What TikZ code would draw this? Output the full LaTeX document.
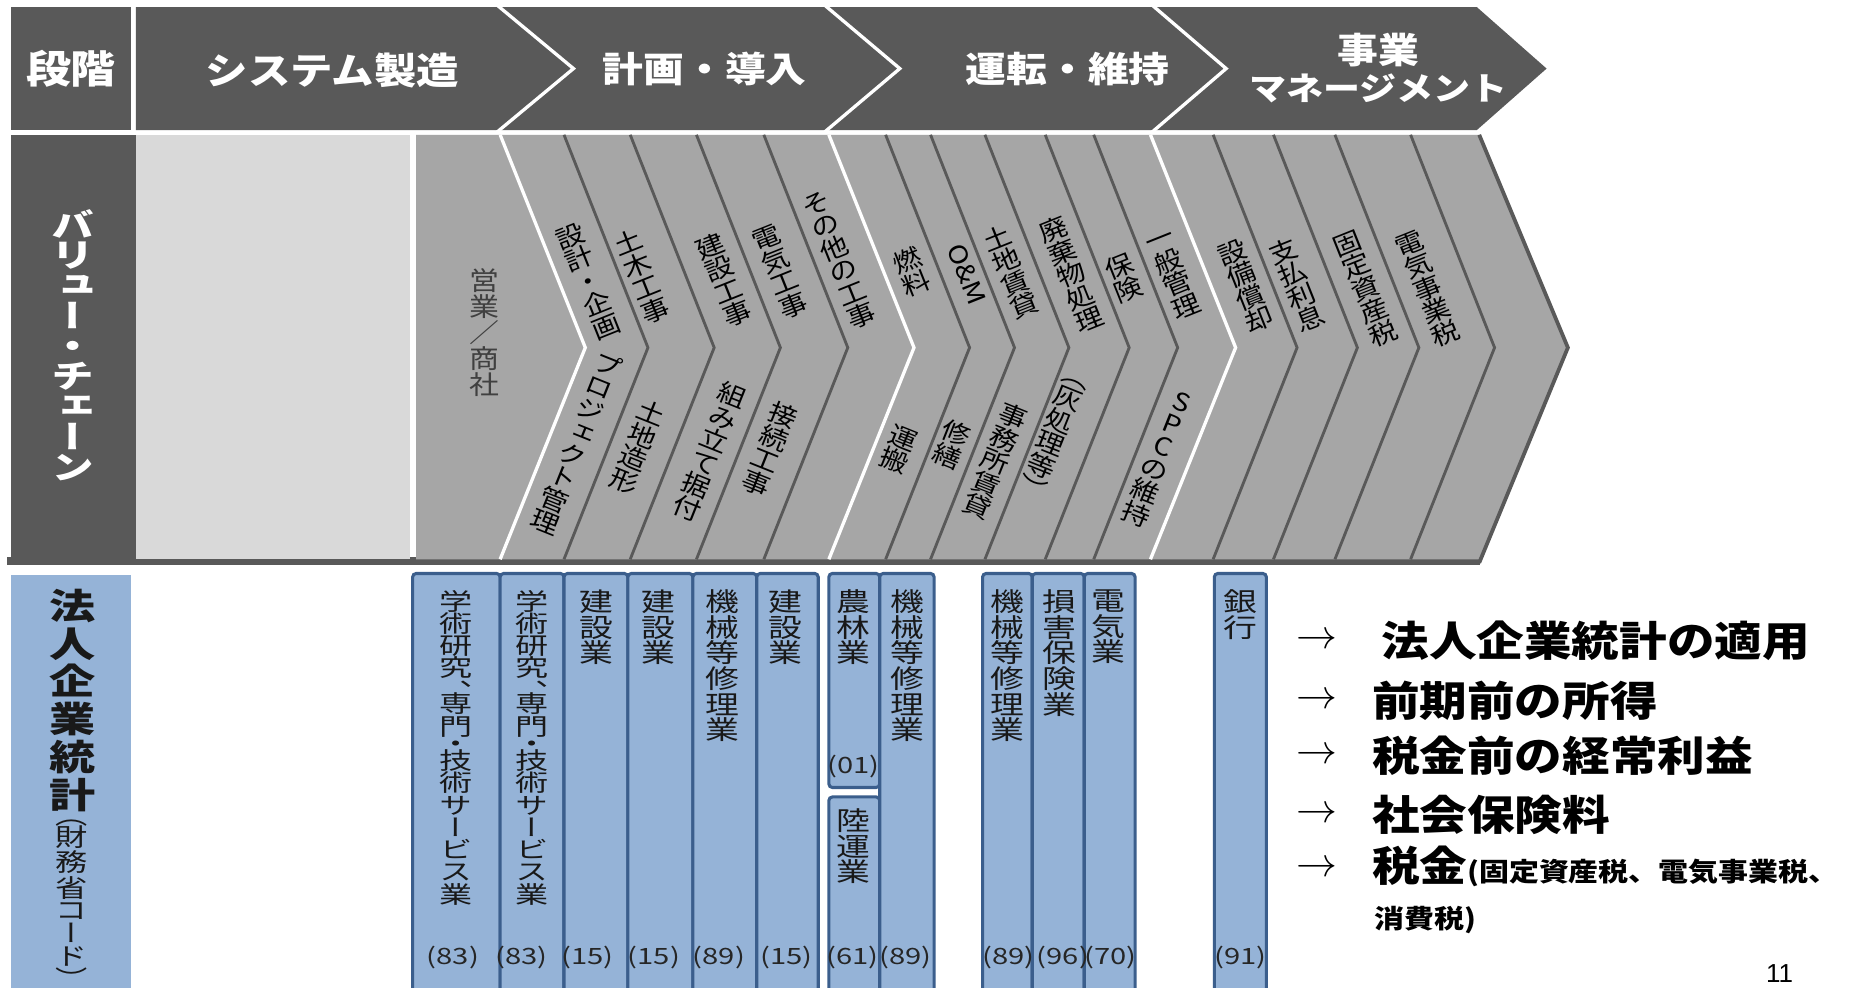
\documentclass[tikz,border=0pt]{standalone}
\usepackage{fontspec}
\newfontfamily\jpA[FakeStretch=1.15]{Noto Sans CJK JP}
\newfontfamily\jpB[FakeStretch=1.3]{Noto Sans CJK JP}
\newfontfamily\vA[FakeStretch=1.15,RawFeature=+vert]{Noto Sans CJK JP}
\newfontfamily\vB[FakeStretch=1.3,RawFeature=+vert]{Noto Sans CJK JP}
\newfontfamily\vW[FakeStretch=1.4,RawFeature=+vert]{Noto Sans CJK JP}
\setsansfont{Liberation Sans}
\definecolor{dkgray}{HTML}{595959}
\definecolor{ltgray}{HTML}{D9D9D9}
\definecolor{mdgray}{HTML}{A6A6A6}
\definecolor{txgray}{HTML}{404040}
\definecolor{bfill}{HTML}{95B3D7}
\definecolor{bline}{HTML}{3B5E8C}
\begin{document}
\begin{tikzpicture}[x=0.5pt,y=-0.5pt,
  vt/.style={align=center, inner sep=0pt, outer sep=0pt},
  toptext/.style={text=white, inner sep=0pt, font=\jpA\bfseries\fontsize{15}{15}\selectfont},
  vc/.style={vt, text=black, font=\vA\fontsize{10.5}{10.25}\selectfont},
  upper/.style={vc, rotate=21.8},
  lower/.style={vc, rotate=-21.8},
  bx/.style={fill=bfill, draw=bline, line width=1.3pt, rounded corners=1.5pt},
  bt/.style={vt, anchor=north, text=black!90, font=\vB\fontsize{11}{10.8}\selectfont},
  btl/.style={vt, anchor=north, text=black!90, font=\vW\fontsize{10}{9.4}\selectfont},
  num/.style={inner sep=0pt, text=black!85, font=\jpB\fontsize{9.5}{9.5}\selectfont},
  arr/.style={inner sep=0pt, font=\fontsize{19}{19}\selectfont},
  rt/.style={inner sep=0pt, anchor=west, font=\jpA\bfseries\fontsize{17.5}{17.5}\selectfont},
  sepw/.style={draw=white, line width=1.4pt},
  sepd/.style={draw=dkgray, line width=1.2pt}
]
\useasboundingbox (0,0) rectangle (1568,835);
\clip (0,0) rectangle (1568,835);
\fill[white] (0,0) rectangle (1568,835);

% ---------------- row 1 : stages ----------------
\fill[dkgray] (9,6) rectangle (111,110);
\node[toptext, font=\jpA\bfseries\fontsize{16.5}{16.5}\selectfont] (dankai) at (60,58) {段階};
\fill[dkgray] (115,6) -- (1249,6) -- (1308,58) -- (1249,110) -- (115,110) -- cycle;
\draw[sepw] (420,4) -- (485,58) -- (420,112);
\draw[sepw] (697,4) -- (761,58) -- (697,112);
\draw[sepw] (974,4) -- (1037,58) -- (974,112);
\node[toptext, font=\jpA\bfseries\fontsize{15.6}{15.6}\selectfont] (s1) at (281,60) {システム製造};
\node[toptext] (s2) at (596,58) {計画・導入};
\node[toptext] (s3) at (903,58) {運転・維持};
\node[toptext] (s4a) at (1166,42) {事業};
\node[toptext, font=\jpA\bfseries\fontsize{13.6}{13.6}\selectfont] (s4b) at (1166,75) {マネージメント};

% ---------------- row 2 : value chain ----------------
\fill[dkgray] (6,471) rectangle (1252,478);
\fill[dkgray] (9,114) rectangle (115,473);
\fill[ltgray] (115,114) rectangle (347,473);
\fill[mdgray] (352,114) -- (1251,114) -- (1326,294) -- (1251,473) -- (352,473) -- cycle;
\draw[dkgray, line width=1.6pt] (1251,114) -- (1326,294) -- (1251,476);
\foreach \x in {477,533,589,646,749,787,833,884,925,1026,1077,1129,1193}
  \draw[sepd] (\x,114) -- (\x+71,294) -- (\x,473);
\foreach \x in {423,701,973}
  \draw[sepw] (\x,114) -- (\x+72,294) -- (\x,473);

\node[vt, anchor=north, text=white, font=\vB\bfseries\fontsize{14}{12.8}\selectfont] (vchain) at (62,177)
  {バ\\リ\\ュ\\ー\\・\\チ\\ェ\\ー\\ン};
\node[vt, text=txgray, font=\jpA\fontsize{11}{11}\selectfont] (eigyo) at (410,281) {営\\業\\／\\商\\社};

\node[upper] (u1) at (498,238) {設\\計\\・\\企\\画};
\node[upper] (u2) at (543,234) {土\\木\\工\\事};
\node[upper] (u3) at (612,237) {建\\設\\工\\事};
\node[upper] (u4) at (660,230) {電\\気\\工\\事};
\node[upper] (u5) at (710,220) {そ\\の\\他\\の\\工\\事};
\node[upper] (u6) at (771,230) {燃\\料};
\node[vc, font=\jpA\fontsize{10.5}{10.5}\selectfont, rotate=-68.2] (u7) at (818,232) {O\&M};
\node[upper] (u8) at (855,230) {土\\地\\賃\\貸};
\node[upper] (u9) at (906,232) {廃\\棄\\物\\処\\理};
\node[upper] (u10) at (950,235) {保\\険};
\node[upper] (u11) at (993,234) {一\\般\\管\\理};
\node[upper] (u12) at (1054,242) {設\\備\\償\\却};
\node[upper] (u13) at (1097,241) {支\\払\\利\\息};
\node[upper] (u14) at (1155,244) {固\\定\\資\\産\\税};
\node[upper] (u15) at (1207,244) {電\\気\\事\\業\\税};

\node[lower] (d1) at (488,375) {プ\\ロ\\ジ\\ェ\\ク\\ト\\管\\理};
\node[lower] (d2) at (539,378) {土\\地\\造\\形};
\node[lower] (d3) at (600,382) {組\\み\\立\\て\\据\\付};
\node[lower] (d4) at (651,380) {接\\続\\工\\事};
\node[lower] (d5) at (760,380) {運\\搬};
\node[lower] (d6) at (805,376) {修\\繕};
\node[lower] (d7) at (842,390) {事\\務\\所\\賃\\貸};
\node[lower] (d8) at (890,371) {（\\灰\\処\\理\\等\\）};
\node[lower] (d9) at (980,388) {S\\P\\C\\の\\維\\持};

% ---------------- row 3 : corporate statistics ----------------
\fill[bfill] (9,486) rectangle (111,850);
\node[vt, anchor=north, text=black!90, font=\vB\bfseries\fontsize{15}{16}\selectfont] (hojin) at (61,498)
  {法\\人\\企\\業\\統\\計};
\node[vt, anchor=north, text=black!90, font=\vB\fontsize{10.5}{9.6}\selectfont] (zaimu) at (61,693)
  {（\\財\\務\\省\\コ\\ー\\ド\\）};

% group 1
\draw[bx] (349,485) rectangle (423,850);
\draw[bx] (423,485) rectangle (477,850);
\draw[bx] (477,485) rectangle (531,850);
\draw[bx] (531,485) rectangle (586,850);
\draw[bx] (586,485) rectangle (640,850);
\draw[bx] (640,485) rectangle (692,850);
% group 2
\draw[bx] (701,485) rectangle (744,666);
\draw[bx] (701,674) rectangle (744,850);
\draw[bx] (744,485) rectangle (790,850);
% group 3
\draw[bx] (831,485) rectangle (873,850);
\draw[bx] (873,485) rectangle (917,850);
\draw[bx] (917,485) rectangle (960,850);
% group 4
\draw[bx] (1027,485) rectangle (1071,850);

\node[btl] (c1) at (386,499) {学\\術\\研\\究\\[0.5pt]、\\[-4pt]専\\門\\[-2.1pt]・\\[-2.1pt]技\\術\\サ\\ー\\ビ\\ス\\業};
\node[btl] (c2) at (450,499) {学\\術\\研\\究\\[0.5pt]、\\[-4pt]専\\門\\[-2.1pt]・\\[-2.1pt]技\\術\\サ\\ー\\ビ\\ス\\業};
\node[bt] (c3) at (504,499) {建\\設\\業};
\node[bt] (c4) at (557,499) {建\\設\\業};
\node[bt] (c5) at (611,499) {機\\械\\等\\修\\理\\業};
\node[bt] (c6) at (664,499) {建\\設\\業};
\node[bt] (c7) at (722,499) {農\\林\\業};
\node[bt] (c8) at (722,684) {陸\\運\\業};
\node[bt] (c9) at (767,499) {機\\械\\等\\修\\理\\業};
\node[bt] (c10) at (852,499) {機\\械\\等\\修\\理\\業};
\node[bt] (c11) at (896,499) {損\\害\\保\\険\\業};
\node[bt] (c12) at (937,499) {電\\気\\業};
\node[bt] (c13) at (1049,499) {銀\\行};

\node[num] (n1) at (383,810) {(83)};
\node[num] (n2) at (441,810) {(83)};
\node[num] (n3) at (497,810) {(15)};
\node[num] (n4) at (553,810) {(15)};
\node[num] (n5) at (608,810) {(89)};
\node[num] (n6) at (665,810) {(15)};
\node[num] (n7) at (722,648) {(01)};
\node[num] (n8) at (721,810) {(61)};
\node[num] (n9) at (766,810) {(89)};
\node[num] (n10) at (853,810) {(89)};
\node[num] (n11) at (899,810) {(96)};
\node[num] (n12) at (939,810) {(70)};
\node[num] (n13) at (1049,810) {(91)};

% right-hand list
\node[arr] (a1) at (1114,542) {$\rightarrow$};
\node[arr] (a2) at (1114,593) {$\rightarrow$};
\node[arr] (a3) at (1114,639) {$\rightarrow$};
\node[arr] (a4) at (1114,689) {$\rightarrow$};
\node[arr] (a5) at (1114,735) {$\rightarrow$};
\node[rt] (t1) at (1168,542) {法人企業統計の適用};
\node[rt] (t2) at (1160,593) {前期前の所得};
\node[rt] (t3) at (1160,639) {税金前の経常利益};
\node[rt] (t4) at (1160,689) {社会保険料};
\node[rt] (t5) at (1160,733) {税金{\fontsize{11}{11}\selectfont(固定資産税、電気事業税、}};
\node[rt, font=\jpA\bfseries\fontsize{11}{11}\selectfont] (t6) at (1162,778) {消費税)};

\node[inner sep=0pt, font=\sffamily\fontsize{11}{11}\selectfont] (pg) at (1505,823) {11};
\end{tikzpicture}
\end{document}
